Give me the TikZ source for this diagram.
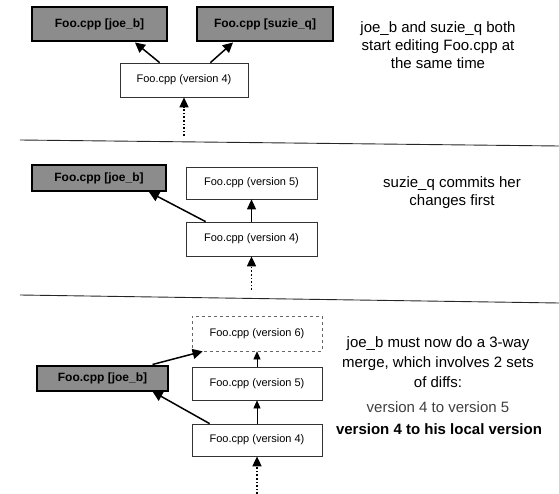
\documentclass[tikz,border=0pt]{standalone}
\usepackage{fontspec}
\setmainfont{Liberation Sans}
\usetikzlibrary{arrows.meta,calc}
\begin{document}
\begin{tikzpicture}[x=1pt,y=-1pt,
  filebox/.style={draw=black!80,line width=0.7pt,fill=white,font=\fontsize{11}{13}\selectfont,inner sep=0pt},
  newbox/.style={filebox,dashed,draw=black!60},
  localbox/.style={draw=black,line width=2pt,fill=black!45,font=\bfseries\fontsize{12}{14}\selectfont,inner sep=0pt},
  desc/.style={font=\fontsize{15}{18}\selectfont,align=center,inner sep=0pt},
  arr/.style={line width=1.5pt,-{Triangle[width=10pt,length=10pt]}},
  uparr/.style={line width=0.9pt,-{Triangle[width=9pt,length=10pt]}},
  smallarr/.style={line width=0.7pt,-{Triangle[width=7pt,length=8pt]}},
  dotarr/.style={line width=1.6pt,dotted,-{Triangle[width=9pt,length=10pt]}},
  sep/.style={line width=0.9pt,draw=black!85}]
\useasboundingbox (0,0) rectangle (559,494);

% ---------- panel 1 ----------
\node[localbox,minimum width=135pt,minimum height=34pt] (j1) at (99.5,24.5) {Foo.cpp [joe\_b]};
\node[localbox,minimum width=136pt,minimum height=34pt] (s1) at (265,24.5) {Foo.cpp [suzie\_q]};
\node[filebox,minimum width=128pt,minimum height=34pt] (a4) at (184,80) {Foo.cpp (version 4)};
\coordinate (a0) at (184,136);
\draw[arr] ([xshift=40pt]a4.north west) -- ([xshift=35.5pt]j1.south);
\draw[arr] ([xshift=-38pt]a4.north east) -- ([xshift=-32pt]s1.south);
\draw[dotarr] (a0) -- (a4.south);
\node[desc] (t1) at (438,45) {joe\_b and suzie\_q both\\start editing Foo.cpp at\\the same time};

\coordinate (l1a) at (20,140);
\coordinate (l1b) at (559,146);
\draw[sep] (l1a) -- (l1b);

% ---------- panel 2 ----------
\node[localbox,minimum width=134pt,minimum height=26pt] (j2) at (99,178) {Foo.cpp [joe\_b]};
\node[filebox,minimum width=131pt,minimum height=32pt] (b5) at (251.5,183) {Foo.cpp (version 5)};
\node[filebox,minimum width=131pt,minimum height=34pt] (b4) at (251.5,239) {Foo.cpp (version 4)};
\coordinate (b0) at (251.5,290);
\draw[uparr] (b4.north) -- (b5.south);
\draw[arr] ([xshift=20pt]b4.north west) -- ([xshift=50pt]j2.south);
\draw[dotarr] (b0) -- (b4.south);
\node[desc] (t2) at (452,193) {suzie\_q commits her\\changes first};

\coordinate (l2a) at (20,295);
\coordinate (l2b) at (559,303);
\draw[sep] (l2a) -- (l2b);

% ---------- panel 3 ----------
\node[newbox,minimum width=130pt,minimum height=35pt] (c6) at (257,333.5) {Foo.cpp (version 6)};
\node[filebox,minimum width=130pt,minimum height=33pt] (c5) at (257,383.5) {Foo.cpp (version 5)};
\node[filebox,minimum width=130pt,minimum height=32pt] (c4) at (257,440) {Foo.cpp (version 4)};
\node[localbox,minimum width=131pt,minimum height=25pt] (j3) at (102.5,378) {Foo.cpp [joe\_b]};
\coordinate (c0) at (257,494);
\draw[smallarr] (c5.north) -- (c6.south);
\draw[smallarr] (c4.north) -- (c5.south);
\draw[arr] ([xshift=50pt]j3.north) -- ([xshift=11pt]c6.south west);
\draw[arr] ([xshift=18pt]c4.north west) -- ([xshift=50pt]j3.south);
\draw[dotarr] (c0) -- (c4.south);
\node[desc,font=\fontsize{15}{20}\selectfont] (t3) at (438,362) {joe\_b must now do a 3-way\\merge, which involves 2 sets\\of diffs:};
\node[desc,text=black!75] (t4) at (438,407) {version 4 to version 5};
\node[desc,font=\bfseries\fontsize{15}{18}\selectfont] (t5) at (439,429) {version 4 to his local version};
\end{tikzpicture}
\end{document}
